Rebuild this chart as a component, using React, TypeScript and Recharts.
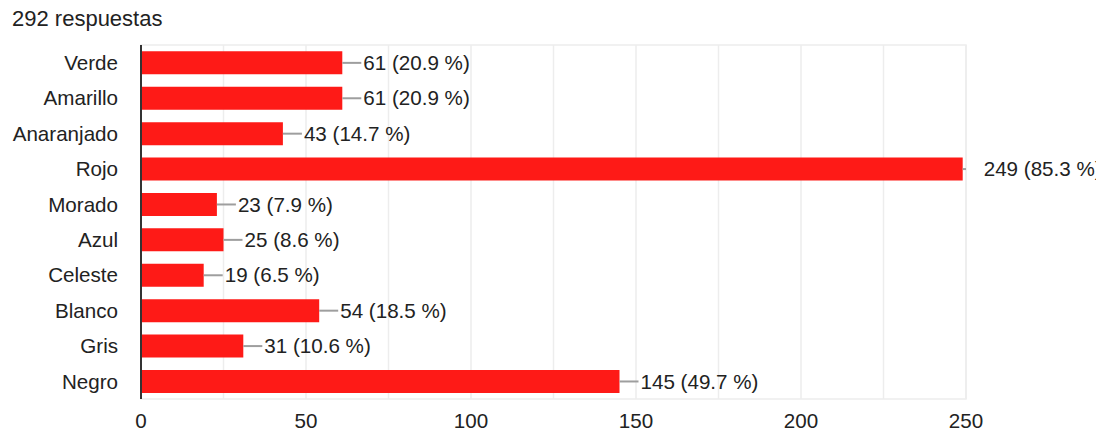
import React from "react";
import {
  BarChart,
  Bar,
  XAxis,
  YAxis,
  CartesianGrid,
  LabelList,
  ReferenceArea,
} from "recharts";

const colores = [
  "Verde",
  "Amarillo",
  "Anaranjado",
  "Rojo",
  "Morado",
  "Azul",
  "Celeste",
  "Blanco",
  "Gris",
  "Negro",
];
const respuestas = [61, 61, 43, 249, 23, 25, 19, 54, 31, 145];
const totalRespuestas = 292;
const xTicks = [0, 25, 50, 75, 100, 125, 150, 175, 200, 225, 250];
const X_MAX = 250;

const data = colores.map((color, i) => ({ color, value: respuestas[i] }));

const FONT = '"Liberation Sans", Arial, sans-serif';
const TEXT = "#222222";
const SIZE = 20.6;

// leader line + "n (p %)" label next to each bar
function ValueLabel(props: any) {
  const { x, y, width, height, value } = props;
  const endX = x + width;
  const plotRight = value > 0 ? x + (width / value) * X_MAX : endX;
  const cy = y + height / 2;
  const pct = ((value / totalRespuestas) * 100).toFixed(1);
  return (
    <g>
      <line
        x1={endX}
        y1={cy}
        x2={Math.min(endX + 19, plotRight)}
        y2={cy}
        stroke="#9e9e9e"
        strokeWidth={2}
      />
      <text
        x={endX + 21}
        y={cy}
        dy="0.35em"
        fill={TEXT}
        fontSize={SIZE}
        fontFamily={FONT}
      >
        {`${value} (${pct} %)`}
      </text>
    </g>
  );
}

export default function App() {
  return (
    <div
      style={{
        position: "absolute",
        left: 0,
        top: 0,
        width: 1110,
        height: 433,
        background: "#fff",
        fontFamily: FONT,
      }}
    >
      <div
        style={{
          position: "absolute",
          left: 12,
          top: 6,
          fontSize: 22,
          color: TEXT,
          whiteSpace: "nowrap",
        }}
      >
        {totalRespuestas} respuestas
      </div>
      <BarChart
        width={1096}
        height={433}
        data={data}
        layout="vertical"
        margin={{ top: 45, right: 130, bottom: 0, left: 0 }}
        barCategoryGap="18%"
      >
        <CartesianGrid horizontal={false} stroke="#ededed" strokeWidth={1.5} />
        <ReferenceArea
          x1={0}
          x2={X_MAX}
          fill="none"
          stroke="#ededed"
          strokeWidth={1.5}
          ifOverflow="visible"
        />
        <XAxis
          type="number"
          domain={[0, X_MAX]}
          ticks={xTicks}
          tickFormatter={(v: number) => (v % 50 === 0 ? String(v) : "")}
          axisLine={false}
          tickLine={false}
          tickSize={0}
          tickMargin={14}
          height={34}
          tick={{ fill: TEXT, fontSize: SIZE, fontFamily: FONT }}
        />
        <YAxis
          type="category"
          dataKey="color"
          width={141}
          axisLine={{ stroke: "#333333", strokeWidth: 2 }}
          tickLine={false}
          tickSize={0}
          tickMargin={23}
          interval={0}
          tick={{ fill: TEXT, fontSize: SIZE, fontFamily: FONT }}
        />
        <Bar dataKey="value" fill="#fe1a17" isAnimationActive={false}>
          <LabelList dataKey="value" content={<ValueLabel />} />
        </Bar>
      </BarChart>
    </div>
  );
}
